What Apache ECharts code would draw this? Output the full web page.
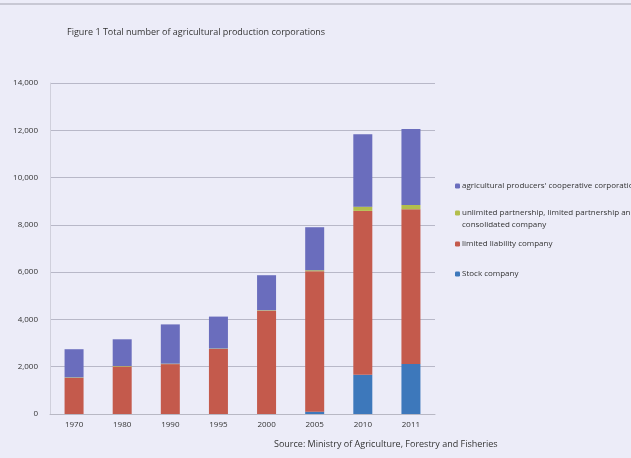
<!DOCTYPE html>
<html><head><meta charset="utf-8">
<script src="https://cdn.jsdelivr.net/npm/echarts@6/dist/echarts.min.js"></script>
<style>html,body{margin:0;padding:0;background:#ececf8;}#c{width:631px;height:458px;}</style>
</head><body><div id="c"></div>
<script>
const categories = ['1970','1980','1990','1995','2000','2005','2010','2011'];
const stockCompany = [0, 0, 0, 0, 0, 100, 1660, 2120];
const limitedLiability = [1530, 2010, 2110, 2750, 4370, 5940, 6930, 6540];
const unlimitedPartnership = [20, 20, 20, 20, 20, 40, 180, 180];
const coopCorporation = [1190, 1130, 1660, 1350, 1480, 1820, 3060, 3210];
const yTicks = [0, 2000, 4000, 6000, 8000, 10000, 12000, 14000];

const names = {
  coop: "agricultural producers' cooperative corporation",
  unl: "unlimited partnership, limited partnership and consolidated company",
  llc: "limited liability company",
  stock: "Stock company"
};
const colors = {coop:'#6a6dbd', unl:'#b3be4c', llc:'#c45a4c', stock:'#3d78bb'};
const font = '"Open Sans", "Liberation Sans", sans-serif';

const chart = echarts.init(document.getElementById('c'));
function legendAt(name, top, formatter) {
  const l = {data:[name], left:455, top:top, padding:0, itemWidth:5, itemHeight:5, itemGap:0,
    textStyle:{fontSize:8, color:'#333', fontFamily:font, padding:[0,0,0,-3]}, selectedMode:false};
  if (formatter) l.formatter = formatter;
  return l;
}
function bar(name, data, color) {
  return {name, type:'bar', stack:'t', data, barWidth:19, itemStyle:{color}, emphasis:{disabled:true}};
}
chart.setOption({
  backgroundColor:'#ececf8',
  animation:false,
  title:{text:'Figure 1 Total number of agricultural production corporations', left:62, top:23,
    textStyle:{fontSize:9, fontWeight:'normal', color:'#333', fontFamily:font}},
  graphic:[
    {type:'rect', shape:{x:0,y:3,width:631,height:2}, style:{fill:'#c8c8d4'}},
    {type:'text', left:274, top:440, style:{text:'Source: Ministry of Agriculture, Forestry and Fisheries', fontSize:9, fill:'#333', fontFamily:font}},
    {type:'text', left:462, top:221, style:{text:'consolidated company', fontSize:8, fill:'#333', fontFamily:font}}
  ],
  legend:[
    legendAt(names.coop, 182),
    legendAt(names.unl, 209, () => 'unlimited partnership, limited partnership and'),
    legendAt(names.llc, 240),
    legendAt(names.stock, 270)
  ],
  grid:{left:50, right:196, top:83, bottom:44},
  xAxis:{type:'category', data:categories,
    axisLine:{lineStyle:{color:'#b8b8c4'}}, axisTick:{show:false},
    axisLabel:{fontSize:8, color:'#333', fontFamily:font, margin:7}},
  yAxis:{type:'value', min:0, max:14000, interval:2000,
    axisLine:{show:true, lineStyle:{color:'#d0d0dc'}},
    axisTick:{show:false},
    splitLine:{lineStyle:{color:'#b8b8c8'}},
    axisLabel:{fontSize:8, color:'#333', fontFamily:font, margin:12,
      formatter:v => yTicks.includes(v) ? v.toLocaleString('en-US') : ''}},
  series:[
    bar(names.stock, stockCompany, colors.stock),
    bar(names.llc, limitedLiability, colors.llc),
    bar(names.unl, unlimitedPartnership, colors.unl),
    bar(names.coop, coopCorporation, colors.coop)
  ]
});
</script></body></html>
